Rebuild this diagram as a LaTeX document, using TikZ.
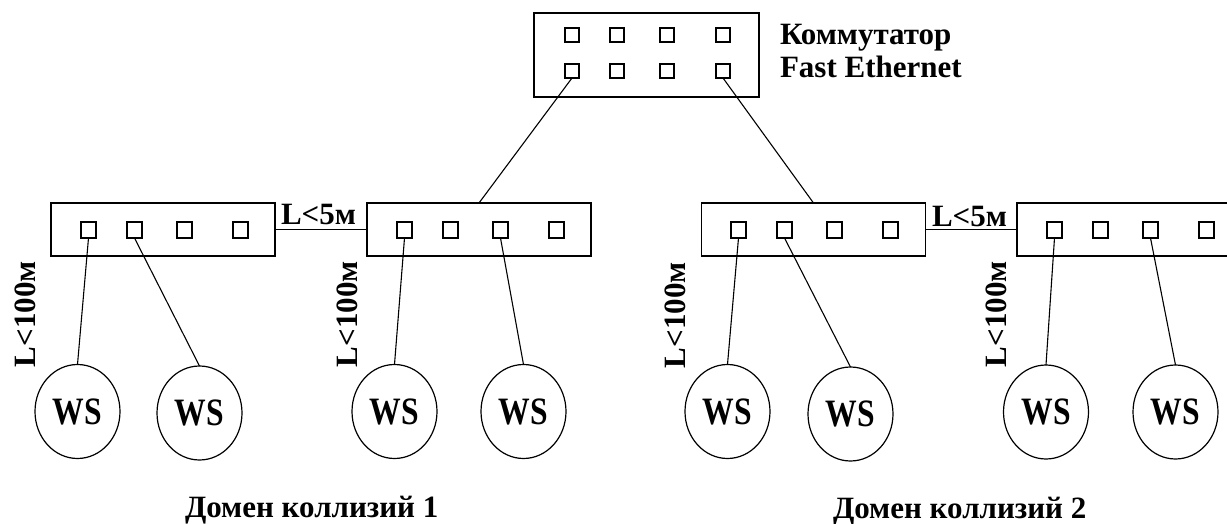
\documentclass[tikz,border=0pt]{standalone}
\usepackage{fontspec}
\usepackage{graphicx}
\setmainfont{Liberation Serif}
\usetikzlibrary{shapes.geometric}
\newcommand{\wstext}{\scalebox{1.02}[1.25]{WS}}
\tikzset{
  lbl/.style={inner sep=0pt, outer sep=0pt, font=\fontsize{31}{37}\selectfont\bfseries},
  sw/.style={draw, line width=1.3pt, inner sep=0pt, outer sep=0pt, minimum width=224pt, minimum height=53pt},
  topsw/.style={draw, line width=1.3pt, inner sep=0pt, outer sep=0pt, minimum width=225pt, minimum height=84pt},
  port/.style={draw, line width=1.3pt, inner sep=0pt, outer sep=0pt, minimum width=15pt, minimum height=16pt},
  tport/.style={draw, line width=1.3pt, inner sep=0pt, outer sep=0pt, minimum width=14pt, minimum height=14pt},
  ws/.style={ellipse, draw, line width=1.2pt, inner sep=0pt, outer sep=0pt, minimum width=85pt, minimum height=94pt, font=\fontsize{31}{37}\selectfont\bfseries},
  wire/.style={line width=1.1pt}
}
\begin{document}
\begin{tikzpicture}[x=1pt, y=-1pt]
\fill[white] (0,0) rectangle (1227,524);
\useasboundingbox (0,0) rectangle (1227,524);
\clip (0,0) rectangle (1227,524);

% top switch
\node[topsw] (top) at (646.5,55) {};
\node[tport] (t1) at (572,35) {};
\node[tport] (t2) at (617,35) {};
\node[tport] (t3) at (667,35) {};
\node[tport] (t4) at (723,35) {};
\node[tport] (t5) at (572,71) {};
\node[tport] (t6) at (617,71) {};
\node[tport] (t7) at (667,71) {};
\node[tport] (t8) at (723,71) {};
\node[lbl, anchor=base west] (tl1) at (780,45) {Коммутатор};
\node[lbl, anchor=base west] (tl2) at (780,78) {Fast Ethernet};

% lower switches
\node[sw] (s1) at (163,229.5) {};
\node[sw] (s2) at (479,229.5) {};
\node[sw] (s3) at (813.5,229.5) {};
\node[sw] (s4) at (1129,229.5) {};

\foreach \s/\l in {s1/51, s2/367, s3/701, s4/1017}{
  \node[port] (\s p1) at (\l+37.5,230) {};
  \node[port] (\s p2) at (\l+83.5,230) {};
  \node[port] (\s p3) at (\l+133.5,230) {};
  \node[port] (\s p4) at (\l+189.5,230) {};
}

% workstations
\node[ws] (w1) at (77.5,411.5) {\wstext};
\node[ws] (w2) at (199.5,413) {\wstext};
\node[ws] (w3) at (394.5,411.5) {\wstext};
\node[ws] (w4) at (523.5,411.5) {\wstext};
\node[ws] (w5) at (727.5,411.5) {\wstext};
\node[ws] (w6) at (850.5,414) {\wstext};
\node[ws] (w7) at (1046,412) {\wstext};
\node[ws] (w8) at (1175.5,412) {\wstext};

% connectors
\draw[wire] (t5.south) -- (s2.north);
\draw[wire] (t8.south) -- (s3.north);
\draw[wire] (s1.east) -- (s2.west);
\draw[wire] (s3.east) -- (s4.west);
\draw[wire] (s1p1.south) -- (w1.north);
\draw[wire] (s1p2.south) -- (w2.north);
\draw[wire] (s2p1.south) -- (w3.north);
\draw[wire] (s2p3.south) -- (w4.north);
\draw[wire] (s3p1.south) -- (w5.north);
\draw[wire] (s3p2.south) -- (w6.north);
\draw[wire] (s4p1.south) -- (w7.north);
\draw[wire] (s4p3.south) -- (w8.north);

% length labels
\node[lbl, anchor=base west] (l5a) at (281,225) {L<5м};
\node[lbl, anchor=base west] (l5b) at (932,226) {L<5м};
\node[lbl, anchor=base west, rotate=90] (l100a) at (35,367) {L<100м};
\node[lbl, anchor=base west, rotate=90] (l100b) at (357,367) {L<100м};
\node[lbl, anchor=base west, rotate=90] (l100c) at (685,368) {L<100м};
\node[lbl, anchor=base west, rotate=90] (l100d) at (1006,367) {L<100м};

% domain labels
\node[lbl, anchor=base west] (d1) at (185,517) {Домен коллизий 1};
\node[lbl, anchor=base west] (d2) at (833,518) {Домен коллизий 2};
\end{tikzpicture}
\end{document}
